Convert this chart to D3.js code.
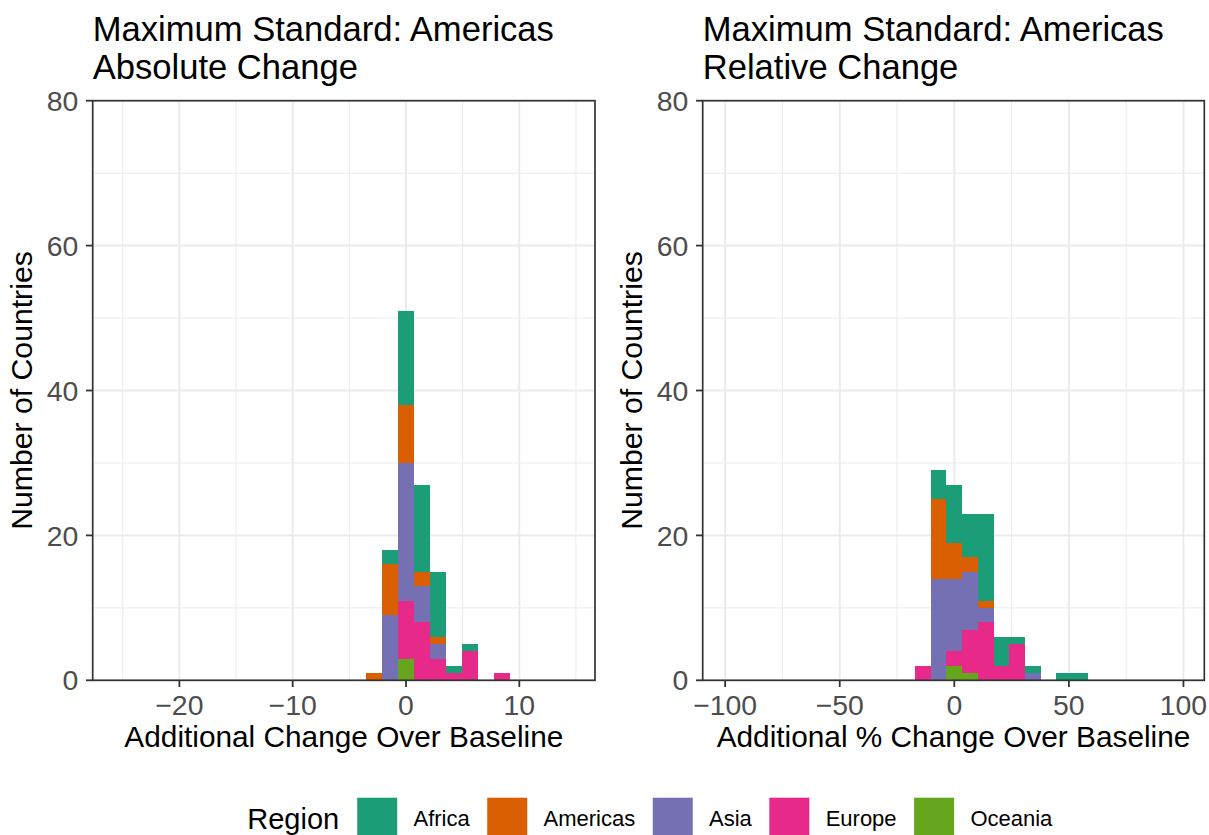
<!DOCTYPE html>
<html>
<head>
<meta charset="utf-8">
<script src="https://cdn.jsdelivr.net/npm/d3@7"></script>
<style>
  html, body { margin: 0; padding: 0; background: #ffffff; }
  svg { display: block; font-family: "Liberation Sans", Arial, sans-serif; }
</style>
</head>
<body>
<svg id="chart" width="1209" height="835"></svg>
<script>
// Region names and Dark2 colours
const regions = ["Africa", "Americas", "Asia", "Europe", "Oceania"];
const regionColors = ["#1B9E77", "#D95F02", "#7570B3", "#E7298A", "#66A61E"];

// Absolute change histogram: bin centres (change units) and counts per region
const absBinWidth = 1.41;
const absBins     = [-2.82, -1.41, 0, 1.41, 2.82, 4.23, 5.64, 8.46];
const absAfrica   = [0, 2, 13, 12, 9, 1, 1, 0];
const absAmericas = [1, 7, 8, 2, 1, 0, 0, 0];
const absAsia     = [0, 9, 19, 5, 2, 0, 0, 0];
const absEurope   = [0, 0, 8, 8, 3, 1, 4, 1];
const absOceania  = [0, 0, 3, 0, 0, 0, 0, 0];

// Relative change histogram: bin centres (% change) and counts per region
const relBinWidth = 6.86;
const relBins     = [-13.72, -6.86, 0, 6.86, 13.72, 20.58, 27.44, 34.3, 48.02, 54.88];
const relAfrica   = [0, 4, 8, 6, 12, 4, 1, 1, 1, 1];
const relAmericas = [0, 11, 5, 2, 1, 0, 0, 0, 0, 0];
const relAsia     = [0, 14, 10, 8, 2, 0, 0, 1, 0, 0];
const relEurope   = [2, 0, 2, 6, 8, 2, 5, 0, 0, 0];
const relOceania  = [0, 0, 2, 1, 0, 0, 0, 0, 0, 0];

// Axis ticks
const yTicks = [0, 20, 40, 60, 80];
const yMinorTicks = [10, 30, 50, 70];
const absTicks = [-20, -10, 0, 10];
const absMinorTicks = [-25, -15, -5, 5, 15];
const relTicks = [-100, -50, 0, 50, 100];
const relMinorTicks = [-75, -25, 25, 75];

// Text
const titleLine1 = "Maximum Standard: Americas";
const absTitleLine2 = "Absolute Change";
const relTitleLine2 = "Relative Change";
const absXLabel = "Additional Change Over Baseline";
const relXLabel = "Additional % Change Over Baseline";
const yLabel = "Number of Countries";
const legendTitle = "Region";

const svg = d3.select("#chart");
const fmt = d => d < 0 ? "\u2212" + Math.abs(d) : String(d);

function drawPanel(opts) {
  const { left, right, top, bottom, xDomain, bins, binWidth, series,
          ticks, minorTicks, line2, xLabel } = opts;

  const x = d3.scaleLinear().domain(xDomain).range([left, right]);
  const y = d3.scaleLinear().domain([0, 80]).range([bottom, top]);
  const g = svg.append("g");

  // Grid lines
  const grid = g.append("g");
  grid.selectAll(".vminor").data(minorTicks).join("line")
    .attr("x1", d => x(d)).attr("x2", d => x(d)).attr("y1", top).attr("y2", bottom)
    .attr("stroke", "#EBEBEB").attr("stroke-width", 1.0);
  grid.selectAll(".hminor").data(yMinorTicks).join("line")
    .attr("x1", left).attr("x2", right).attr("y1", d => y(d)).attr("y2", d => y(d))
    .attr("stroke", "#EBEBEB").attr("stroke-width", 1.0);
  grid.selectAll(".vmajor").data(ticks).join("line")
    .attr("x1", d => x(d)).attr("x2", d => x(d)).attr("y1", top).attr("y2", bottom)
    .attr("stroke", "#EBEBEB").attr("stroke-width", 2.0);
  grid.selectAll(".hmajor").data(yTicks).join("line")
    .attr("x1", left).attr("x2", right).attr("y1", d => y(d)).attr("y2", d => y(d))
    .attr("stroke", "#EBEBEB").attr("stroke-width", 2.0);

  // Stacked histogram bars: Oceania at the bottom, Africa on top
  const rows = bins.map((b, i) => {
    const row = { bin: b };
    regions.forEach((r, j) => { row[r] = series[j][i]; });
    return row;
  });
  const stack = d3.stack().keys(regions.slice().reverse());
  const layers = stack(rows);
  const color = d3.scaleOrdinal().domain(regions).range(regionColors);

  g.append("g").attr("shape-rendering", "crispEdges")
    .selectAll("g").data(layers).join("g")
    .attr("fill", d => color(d.key))
    .selectAll("rect").data(d => d.filter(p => p[1] > p[0])).join("rect")
    .attr("x", d => x(d.data.bin - binWidth / 2))
    .attr("width", d => x(d.data.bin + binWidth / 2) - x(d.data.bin - binWidth / 2))
    .attr("y", d => y(d[1]))
    .attr("height", d => y(d[0]) - y(d[1]));

  // Panel border
  g.append("rect").attr("x", left).attr("y", top)
    .attr("width", right - left).attr("height", bottom - top)
    .attr("fill", "none").attr("stroke", "#333333").attr("stroke-width", 1.7);

  // X axis ticks and labels
  const xa = g.append("g");
  xa.selectAll("line").data(ticks).join("line")
    .attr("x1", d => x(d)).attr("x2", d => x(d)).attr("y1", bottom).attr("y2", bottom + 6.7)
    .attr("stroke", "#333333").attr("stroke-width", 1.8);
  xa.selectAll("text").data(ticks).join("text")
    .attr("x", d => x(d)).attr("y", 715)
    .attr("text-anchor", "middle").attr("font-size", 28.4).attr("fill", "#4D4D4D")
    .text(fmt);

  // Y axis ticks and labels
  const ya = g.append("g");
  ya.selectAll("line").data(yTicks).join("line")
    .attr("x1", left - 6.7).attr("x2", left).attr("y1", d => y(d)).attr("y2", d => y(d))
    .attr("stroke", "#333333").attr("stroke-width", 1.8);
  ya.selectAll("text").data(yTicks).join("text")
    .attr("x", left - 14.4).attr("y", d => y(d)).attr("dy", "0.358em")
    .attr("text-anchor", "end").attr("font-size", 28.4).attr("fill", "#4D4D4D")
    .text(fmt);

  // Axis titles
  g.append("text").attr("x", (left + right) / 2).attr("y", 747.3)
    .attr("text-anchor", "middle").attr("font-size", 29.8).attr("fill", "#000")
    .text(xLabel);
  g.append("text")
    .attr("transform", `translate(${left - 60.4},${(top + bottom) / 2}) rotate(-90)`)
    .attr("text-anchor", "middle").attr("font-size", 30.2).attr("fill", "#000")
    .text(yLabel);

  // Two-line title
  g.append("text").attr("x", left).attr("y", 41).attr("font-size", 34.6).attr("fill", "#000")
    .text(titleLine1);
  g.append("text").attr("x", left).attr("y", 79).attr("font-size", 34.6).attr("fill", "#000")
    .text(line2);
}

drawPanel({
  left: 92.7, right: 595, top: 100.7, bottom: 680.3,
  xDomain: [-27.65, 16.68],
  bins: absBins, binWidth: absBinWidth,
  series: [absAfrica, absAmericas, absAsia, absEurope, absOceania],
  ticks: absTicks, minorTicks: absMinorTicks,
  line2: absTitleLine2, xLabel: absXLabel
});

drawPanel({
  left: 702.7, right: 1204.3, top: 100.7, bottom: 680.3,
  xDomain: [-109.8, 109.1],
  bins: relBins, binWidth: relBinWidth,
  series: [relAfrica, relAmericas, relAsia, relEurope, relOceania],
  ticks: relTicks, minorTicks: relMinorTicks,
  line2: relTitleLine2, xLabel: relXLabel
});

// Legend along the bottom
const legend = svg.append("g");
const keyCenterY = 817.7;
const lt = legend.append("text").attr("x", 247.3).attr("y", 829.3)
  .attr("font-size", 29).attr("fill", "#000").text(legendTitle);
let cursor = 247.3 + lt.node().getComputedTextLength() + 18;
regions.forEach((r, i) => {
  legend.append("rect").attr("x", cursor).attr("y", keyCenterY - 20)
    .attr("width", 40).attr("height", 40).attr("fill", regionColors[i]);
  const t = legend.append("text").attr("x", cursor + 56.3).attr("y", keyCenterY + 8)
    .attr("font-size", 22).attr("fill", "#000").text(r);
  cursor = cursor + 56.3 + t.node().getComputedTextLength() + 17.5;
});
</script>
</body>
</html>
